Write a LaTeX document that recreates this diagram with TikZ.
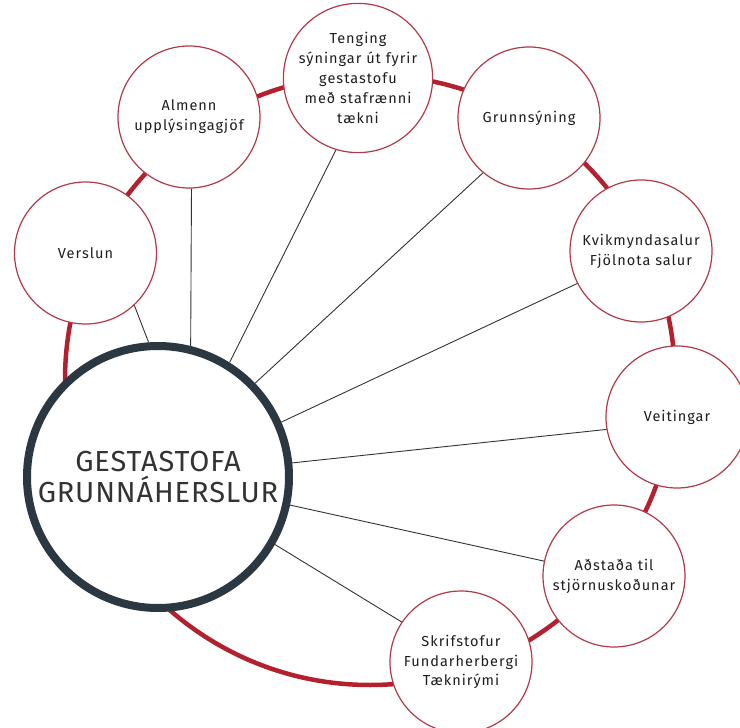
\documentclass[tikz,border=0pt]{standalone}
\usepackage{fontspec}
\setmainfont{Fira Sans}[LetterSpace=7]
\newfontfamily\hubfont{Fira Sans}[LetterSpace=3]
\definecolor{ringred}{HTML}{B3202E}
\definecolor{circred}{HTML}{B23A48}
\definecolor{navy}{HTML}{2B3842}
\definecolor{linegray}{HTML}{333333}
\definecolor{labeltext}{HTML}{1E1E1E}
\begin{document}
\begin{tikzpicture}[x=1pt,y=-1pt,
  small/.style={circle, draw=circred, line width=1.2pt, fill=white, minimum size=142pt, inner sep=0pt, align=center, font=\fontsize{14.5}{19.8}\selectfont, text=labeltext},
  hub/.style={circle, draw=navy, line width=8pt, fill=white, minimum size=262pt, inner sep=0pt, align=center, font=\hubfont\fontsize{29}{31}\selectfont, text=black!80},
  ring/.style={draw=ringred, line width=4.5pt},
  link/.style={draw=linegray, line width=0.9pt}]
\useasboundingbox (0,0) rectangle (740,728);
\coordinate (rc) at (370,380);
\draw[ring] (rc) circle[radius=305pt];
\node[hub] (hub) at (158,477) {GESTASTOFA\\GRUNNÁHERSLUR};
\node[small] (verslun) at (85.5,253) {Verslun};
\node[small] (almenn) at (189,117) {Almenn\\upplýsingagjöf};
\node[small] (tenging) at (358,78) {Tenging\\sýningar út fyrir\\gestastofu\\með stafrænni\\tækni};
\node[small] (grunn) at (529,118) {Grunnsýning};
\node[small] (kvik) at (641,251) {Kvikmyndasalur\\Fjölnota salur};
\node[small] (veit) at (677,417) {Veitingar};
\node[small] (adst) at (614,576) {Aðstaða til\\stjörnuskoðunar};
\node[small] (skrif) at (461,662) {Skrifstofur\\Fundarherbergi\\Tæknirými};
\draw[link] (hub.94) -- (verslun.-47.6);
\draw[link] (hub.76) -- (almenn.-88.5);
\draw[link] (hub.58) -- (tenging.-107);
\draw[link] (hub.44) -- (grunn.-130.5);
\draw[link] (hub.24) -- (kvik.-153.4);
\draw[link] (hub.6.3) -- (veit.-170.3);
\draw[link] (hub.-12.6) -- (adst.168.8);
\draw[link] (hub.-30.5) -- (skrif.146.7);
\end{tikzpicture}
\end{document}
